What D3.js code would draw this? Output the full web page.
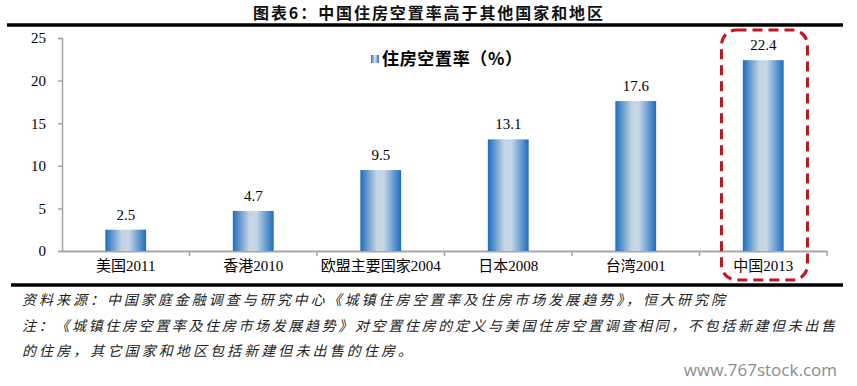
<!DOCTYPE html>
<html>
<head>
<meta charset="utf-8">
<script src="https://cdn.jsdelivr.net/npm/d3@7"></script>
<style>
  body { margin: 0; background: #fff; }
  svg { display: block; }
</style>
</head>
<body>
<svg id="chart" width="857" height="386"></svg>
<script>
// data
var categories = ["美国2011", "香港2010", "欧盟主要国家2004", "日本2008", "台湾2001", "中国2013"];
var vacancy = [2.5, 4.7, 9.5, 13.1, 17.6, 22.4];
var yTicks = [0, 5, 10, 15, 20, 25];
var seriesName = "住房空置率（%）";
var title = "图表6：中国住房空置率高于其他国家和地区";
var notes = [
    "资料来源：中国家庭金融调查与研究中心《城镇住房空置率及住房市场发展趋势》，恒大研究院",
    "注：《城镇住房空置率及住房市场发展趋势》对空置住房的定义与美国住房空置调查相同，不包括新建但未出售",
    "的住房，其它国家和地区包括新建但未出售的住房。"
];
var highlight = "中国2013";

var serif = "'Liberation Serif', 'Times New Roman', 'Noto Sans CJK SC', serif";
var cjk = "'Noto Sans CJK SC', 'Liberation Serif', sans-serif";

var svg = d3.select("#chart");

// scales
var x = d3.scaleBand().domain(categories).range([62, 827]).padding(0);
var y = d3.scaleLinear().domain([0, 25]).range([251, 38]);
var barW = x.bandwidth() * 0.32;

// gradient for bars
var defs = svg.append("defs");
var grad = defs.append("linearGradient")
    .attr("id", "barGrad")
    .attr("x1", "0%").attr("x2", "100%").attr("y1", "0%").attr("y2", "0%");
grad.append("stop").attr("offset", "0%").attr("stop-color", "#1c6cc1");
grad.append("stop").attr("offset", "40%").attr("stop-color", "#c4d4e3");
grad.append("stop").attr("offset", "58%").attr("stop-color", "#c6d6e4");
grad.append("stop").attr("offset", "100%").attr("stop-color", "#1c6cc1");

// title and rules
svg.append("text")
    .attr("x", 428).attr("y", 19)
    .attr("text-anchor", "middle")
    .attr("textLength", 350)
    .attr("lengthAdjust", "spacing")
    .style("font-family", cjk)
    .style("font-weight", "bold")
    .style("font-size", "16px")
    .style("fill", "#111")
    .text(title);

svg.append("line")
    .attr("x1", 7).attr("x2", 843).attr("y1", 25).attr("y2", 25)
    .attr("stroke", "#000").attr("stroke-width", 3.5);
svg.append("line")
    .attr("x1", 11).attr("x2", 843).attr("y1", 285).attr("y2", 285)
    .attr("stroke", "#000").attr("stroke-width", 3.5);

// y axis
var yAxis = svg.append("g")
    .attr("class", "axis y")
    .attr("transform", "translate(62,0)")
    .call(d3.axisLeft(y).tickValues(yTicks).tickSize(4).tickPadding(12));
yAxis.select(".domain").attr("stroke", "#a6a6a6").attr("stroke-width", 1.5);
yAxis.selectAll(".tick line").attr("stroke", "#a6a6a6").attr("stroke-width", 1.5);
yAxis.selectAll("text")
    .style("font-family", serif)
    .style("font-size", "15px")
    .style("fill", "#000");

// x axis
var xAxis = svg.append("g")
    .attr("class", "axis x")
    .attr("transform", "translate(0,251)")
    .call(d3.axisBottom(x).tickSizeOuter(0).tickSize(0).tickPadding(9));
xAxis.select(".domain").attr("stroke", "#a6a6a6").attr("stroke-width", 2);
xAxis.selectAll("text")
    .style("font-family", serif)
    .style("font-size", "15px")
    .style("fill", "#000");

// tick marks at category boundaries
var bounds = categories.map(function(d) { return x(d); }).concat([x.range()[1]]);
svg.append("g").selectAll("line")
    .data(bounds.slice(1))
    .enter().append("line")
    .attr("x1", function(d) { return d; })
    .attr("x2", function(d) { return d; })
    .attr("y1", 251).attr("y2", 256)
    .attr("stroke", "#a6a6a6").attr("stroke-width", 1.5);

// bars
svg.append("g").selectAll("rect")
    .data(vacancy)
    .enter().append("rect")
    .attr("x", function(d, i) { return x(categories[i]) + (x.bandwidth() - barW) / 2; })
    .attr("y", function(d) { return y(d); })
    .attr("width", barW)
    .attr("height", function(d) { return y(0) - y(d); })
    .attr("fill", "url(#barGrad)");

// value labels
svg.append("g").selectAll("text")
    .data(vacancy)
    .enter().append("text")
    .attr("x", function(d, i) { return x(categories[i]) + x.bandwidth() / 2; })
    .attr("y", function(d) { return y(d) - 10; })
    .attr("text-anchor", "middle")
    .style("font-family", serif)
    .style("font-size", "15px")
    .style("fill", "#000")
    .text(function(d) { return d.toFixed(1); });

// legend
var legend = svg.append("g").attr("class", "legend");
legend.append("rect")
    .attr("x", 371).attr("y", 55)
    .attr("width", 8).attr("height", 8)
    .attr("fill", "url(#barGrad)");
legend.append("text")
    .attr("x", 382).attr("y", 65)
    .attr("textLength", 140)
    .attr("lengthAdjust", "spacing")
    .style("font-family", cjk)
    .style("font-weight", "bold")
    .style("font-size", "17px")
    .style("fill", "#000")
    .text(seriesName);

// red dashed highlight round China
svg.append("rect")
    .attr("x", x(highlight) + 22)
    .attr("y", 30)
    .attr("width", 86)
    .attr("height", 250)
    .attr("rx", 15).attr("ry", 15)
    .attr("fill", "none")
    .attr("stroke", "#c5141c")
    .attr("stroke-width", 3)
    .attr("stroke-dasharray", "10,6");

// notes under the chart
var noteWidths = [703, 813, 390];
svg.append("g").selectAll("text")
    .data(notes)
    .enter().append("text")
    .attr("x", 22)
    .attr("y", function(d, i) { return 305 + i * 25.5; })
    .attr("textLength", function(d, i) { return noteWidths[i]; })
    .attr("lengthAdjust", "spacing")
    .style("font-family", cjk)
    .style("font-style", "italic")
    .style("font-size", "14px")
    .style("fill", "#222")
    .text(function(d) { return d; });

// watermark
svg.append("text")
    .attr("x", 837).attr("y", 376)
    .attr("text-anchor", "end")
    .style("font-family", "'Open Sans', sans-serif")
    .style("font-size", "17px")
    .style("fill", "#8c8c8c")
    .text("www.767stock.com");
</script>
</body>
</html>
